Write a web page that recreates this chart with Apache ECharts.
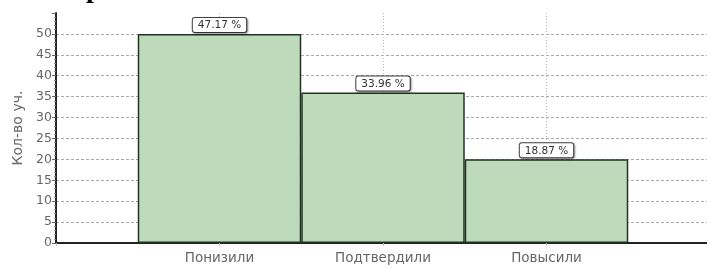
<!DOCTYPE html>
<html>
<head>
<meta charset="utf-8">
<script src="https://cdn.jsdelivr.net/npm/echarts@6/dist/echarts.min.js"></script>
<style>
html,body{margin:0;padding:0;background:#fff;}
#chart{width:707px;height:269px;}
</style>
</head>
<body>
<div id="chart"></div>
<script>
var categories = ['Понизили', 'Подтвердили', 'Повысили'];
var counts = [50, 36, 20];
var percentLabels = ['47.17 %', '33.96 %', '18.87 %'];
var yTicks = [0, 5, 10, 15, 20, 25, 30, 35, 40, 45, 50];
var yAxisName = 'Кол-во уч.';
var titleFragment = 'р';

// pad with empty slots on both sides (the reference leaves half a column empty at each edge)
var xData = [''].concat(categories).concat(['']);
var barData = ['-'].concat(counts).concat(['-']);
var labelData = [''].concat(percentLabels).concat(['']);

var chart = echarts.init(document.getElementById('chart'), null, {renderer: 'canvas'});
var font = '"DejaVu Sans", Verdana, sans-serif';
chart.setOption({
  animation: false,
  backgroundColor: '#fff',
  graphic: [{
    type: 'text',
    left: 86,
    top: -24,
    style: {text: titleFragment, font: 'bold 28px "Liberation Serif", serif', fill: '#000'}
  }],
  grid: {left: 56, width: 654, top: 13, bottom: 26, containLabel: false, outerBoundsMode: 'none'},
  xAxis: {
    type: 'category',
    data: xData,
    boundaryGap: false,
    axisLine: {show: true, lineStyle: {color: '#222', width: 2}},
    axisTick: {show: true, length: 3, lineStyle: {color: '#bbb'}},
    axisLabel: {color: '#666', fontSize: 13.5, fontFamily: font, margin: 8, interval: 0},
    splitLine: {show: true, lineStyle: {color: '#bbb', type: [1, 2], width: 1}}
  },
  yAxis: {
    type: 'value',
    min: 0,
    max: 55,
    interval: 5,
    name: yAxisName,
    nameLocation: 'middle',
    nameGap: 29,
    nameTextStyle: {color: '#666', fontSize: 14, fontFamily: font},
    axisLine: {show: true, lineStyle: {color: '#222', width: 2}},
    axisTick: {show: true, length: 4, lineStyle: {color: '#666'}},
    minorTick: {show: true, splitNumber: 5, length: 2, lineStyle: {color: '#888'}},
    axisLabel: {
      color: '#666', fontSize: 12.5, fontFamily: font, margin: 4,
      formatter: function (v) { return yTicks.indexOf(v) >= 0 ? String(v) : ''; }
    },
    splitLine: {show: true, showMaxLine: false, lineStyle: {color: '#aaa', type: [3, 2], width: 1}}
  },
  series: [{
    type: 'bar',
    data: barData,
    barWidth: '100%',
    barGap: '0%',
    itemStyle: {color: '#bddbba', borderColor: '#223322', borderWidth: 1.5},
    label: {
      show: true,
      position: 'top',
      distance: 2,
      formatter: function (p) { return labelData[p.dataIndex]; },
      color: '#333',
      fontSize: 10.5,
      fontFamily: font,
      backgroundColor: '#fff',
      borderColor: '#444',
      borderWidth: 1,
      borderRadius: 2,
      padding: [2, 5, 1, 5],
      shadowColor: 'rgba(0,0,0,0.35)',
      shadowBlur: 2,
      shadowOffsetX: 1,
      shadowOffsetY: 1
    }
  }]
});
</script>
</body>
</html>
